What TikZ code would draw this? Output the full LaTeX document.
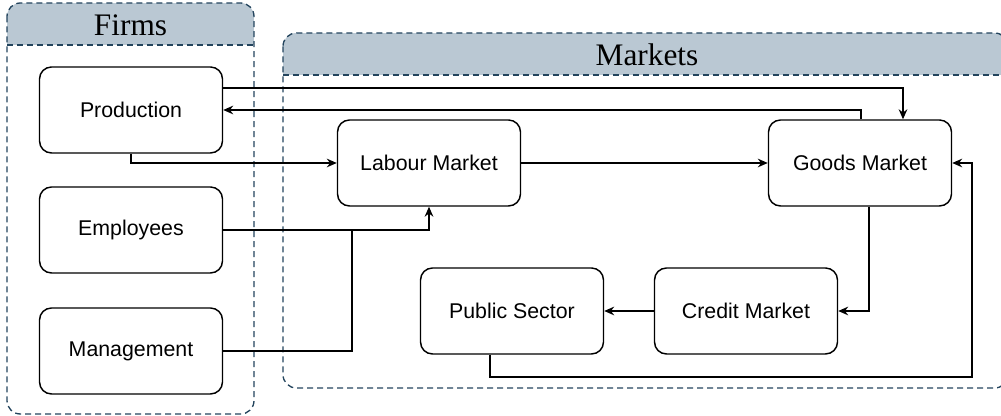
\documentclass[tikz,border=0pt]{standalone}
\usepackage{fontspec}
\setmainfont{Liberation Serif}
\setsansfont{Liberation Sans}
\usetikzlibrary{arrows.meta}
\definecolor{hdrfill}{HTML}{BAC8D3}
\definecolor{hdrline}{HTML}{23445D}
\tikzset{
 box/.style={draw=black, line width=1.1pt, rounded corners=9pt, minimum width=137.25pt, minimum height=64.5pt, font=\sffamily\fontsize{16}{19}\selectfont, inner sep=0pt, fill=white},
 arr/.style={draw=black, line width=1.1pt, -{Stealth[length=7.5pt,width=6.5pt,inset=2.5pt]}},
 link/.style={draw=black, line width=1.1pt},
 cont/.style={draw=hdrline, line width=1pt, dash pattern=on 4.5pt off 3pt, rounded corners=10pt},
 hdrtitle/.style={font=\rmfamily\fontsize{23.5}{27}\selectfont, inner sep=0pt}
}
\begin{document}
\begin{tikzpicture}[x=0.75pt,y=-0.75pt]
\useasboundingbox (0,0) rectangle (1001,416);
% Firms container
\begin{scope}
\clip[rounded corners=10pt] (7,3) rectangle (254,414);
\fill[hdrfill] (7,3) rectangle (254,45);
\end{scope}
\draw[cont] (7,3) rectangle (254,414);
\draw[cont, rounded corners=0pt] (7,45) -- (254,45);
\node[hdrtitle] (firmsT) at (130.5,25) {Firms};
% Markets container
\begin{scope}
\clip[rounded corners=10pt] (283,33) rectangle (1008,388);
\fill[hdrfill] (283,33) rectangle (1008,75);
\end{scope}
\draw[cont] (283,33) rectangle (1008,388);
\draw[cont, rounded corners=0pt] (283,75) -- (1008,75);
\node[hdrtitle] (marketsT) at (647,55) {Markets};
% boxes
\node[box] (prod) at (131,110) {Production};
\node[box] (emp) at (131,230) {Employees};
\node[box] (mgmt) at (131,351) {Management};
\node[box] (labour) at (429,163) {Labour Market};
\node[box] (goods) at (860,163) {Goods Market};
\node[box] (public) at (512,311) {Public Sector};
\node[box] (credit) at (746,311) {Credit Market};
\coordinate (jn) at (352,230);
\coordinate (pb) at (972,377);
% connectors
\draw[arr] ([yshift=16.5pt]prod.east) -| ([xshift=32.25pt]goods.north);
\draw[arr] ([xshift=0.75pt]goods.north) |- (prod.east);
\draw[arr] (prod.south) |- (labour.west);
\draw[arr] (labour.east) -- (goods.west);
\draw[arr] (emp.east) -| (labour.south);
\draw[link] (mgmt.east) -| (jn);
\draw[arr] ([xshift=6.75pt]goods.south) |- (credit.east);
\draw[arr] (credit.west) -- (public.east);
\draw[arr] ([xshift=-16.5pt]public.south) |- (pb) |- (goods.east);
\end{tikzpicture}
\end{document}
